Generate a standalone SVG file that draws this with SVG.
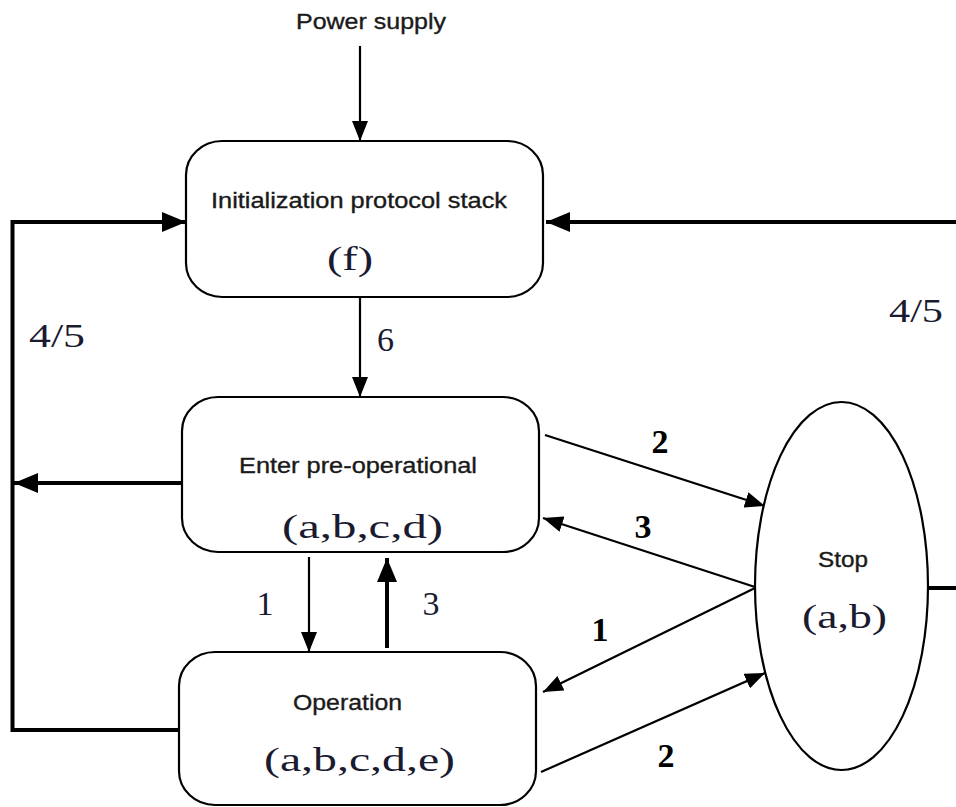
<svg xmlns="http://www.w3.org/2000/svg" width="956" height="807" viewBox="0 0 956 807">
<style>
.box{fill:#fff;stroke:#000;stroke-width:2.2}
.sans{font-family:"Liberation Sans",Arial,sans-serif;font-size:21.5px;fill:#1a1a1a;stroke:#1a1a1a;stroke-width:0.35}
.serif{font-family:"Liberation Serif","Times New Roman",serif;font-size:34px;fill:#1a1a30}
.bold{font-weight:bold;fill:#000;text-anchor:middle}
.thin{stroke:#000;stroke-width:2.2;fill:none}
.thick{stroke:#000;stroke-width:4;fill:none}
</style>
<defs>
<marker id="ah" markerUnits="userSpaceOnUse" markerWidth="22" markerHeight="16" refX="20" refY="8" orient="auto">
<path d="M0,0 L20,8 L0,16 z" fill="#000"/>
</marker>
<marker id="ahb" markerUnits="userSpaceOnUse" markerWidth="26" markerHeight="20" refX="24" refY="10" orient="auto">
<path d="M0,0 L24,10 L0,20 z" fill="#000"/>
</marker>
</defs>
<rect width="956" height="807" fill="#fff"/>
<text class="sans" x="296" y="29" textLength="150" lengthAdjust="spacingAndGlyphs">Power supply</text>
<g id="connectors">
<line class="thin" x1="360" y1="46" x2="360" y2="141" marker-end="url(#ah)"/>
<line class="thin" x1="360" y1="297" x2="360" y2="397" marker-end="url(#ah)"/>
<line class="thin" x1="309" y1="557" x2="309" y2="652" marker-end="url(#ah)"/>
<line class="thick" x1="387" y1="648" x2="387" y2="558" marker-end="url(#ahb)"/>
<polyline class="thick" points="179,730 12.5,730 12.5,222 186,222" marker-end="url(#ahb)"/>
<line class="thick" x1="182" y1="483" x2="14" y2="483" marker-end="url(#ahb)"/>
<line class="thick" x1="956" y1="222" x2="546" y2="222" marker-end="url(#ahb)"/>
<line class="thick" x1="928" y1="588" x2="956" y2="588"/>
<line class="thin" x1="545" y1="435" x2="765" y2="506" marker-end="url(#ah)"/>
<line class="thin" x1="755" y1="587" x2="543" y2="518" marker-end="url(#ah)"/>
<line class="thin" x1="755" y1="588" x2="543" y2="692" marker-end="url(#ah)"/>
<line class="thin" x1="541" y1="772" x2="765" y2="673" marker-end="url(#ah)"/>
<text class="serif" x="377" y="351">6</text>
<text class="serif" x="29" y="347" textLength="56" lengthAdjust="spacingAndGlyphs">4/5</text>
<text class="serif" x="889" y="322" textLength="54" lengthAdjust="spacingAndGlyphs">4/5</text>
<text class="serif" x="265" y="615" text-anchor="middle">1</text>
<text class="serif" x="431" y="615" text-anchor="middle">3</text>
<text class="serif bold" x="660" y="453">2</text>
<text class="serif bold" x="643" y="538">3</text>
<text class="serif bold" x="600" y="641">1</text>
<text class="serif bold" x="666" y="767">2</text>
</g>
<g id="init">
<rect class="box" x="186" y="141" width="357" height="156" rx="36" ry="34"/>
<text class="sans" x="211" y="208" textLength="296" lengthAdjust="spacingAndGlyphs">Initialization protocol stack</text>
<text class="serif" x="327" y="270" textLength="46" lengthAdjust="spacingAndGlyphs">(f)</text>
</g>
<g id="preop">
<rect class="box" x="182" y="397" width="357" height="155" rx="36" ry="34"/>
<text class="sans" x="239" y="473" textLength="238" lengthAdjust="spacingAndGlyphs">Enter pre-operational</text>
<text class="serif" x="282" y="538" textLength="161" lengthAdjust="spacingAndGlyphs">(a,b,c,d)</text>
</g>
<g id="operation">
<rect class="box" x="179" y="652" width="357" height="153" rx="36" ry="34"/>
<text class="sans" x="293" y="710" textLength="109" lengthAdjust="spacingAndGlyphs">Operation</text>
<text class="serif" x="264" y="771" textLength="191" lengthAdjust="spacingAndGlyphs">(a,b,c,d,e)</text>
</g>
<g id="stop">
<ellipse class="box" cx="841.5" cy="586" rx="86.5" ry="184"/>
<text class="sans" x="818" y="567" textLength="50" lengthAdjust="spacingAndGlyphs">Stop</text>
<text class="serif" x="802" y="628" textLength="85" lengthAdjust="spacingAndGlyphs">(a,b)</text>
</g>
</svg>
